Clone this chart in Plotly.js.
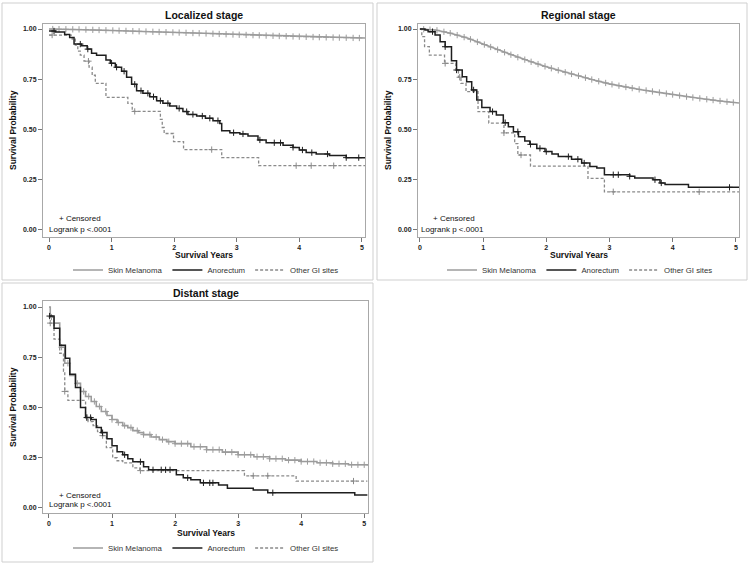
<!DOCTYPE html>
<html><head><meta charset="utf-8">
<script src="https://cdn.plot.ly/plotly-3.0.1.min.js"></script>
<style>html,body{margin:0;padding:0;background:#fff}#chart{width:750px;height:565px}</style>
</head><body><div id="chart"></div>
<script>
// ---------- DATA ----------
var seriesNames = ["Skin Melanoma", "Anorectum", "Other GI sites"];
var panelTitles = ["Localized stage", "Regional stage", "Distant stage"];
var xTicks = [0, 1, 2, 3, 4, 5];
var yTicks = [0, 0.25, 0.5, 0.75, 1];

// Localized stage
var locMelT = [0,0.5,1,1.5,2,2.5,3,3.5,4,4.5,5,5.05];
var locMelS = [1.0,0.998,0.993,0.988,0.983,0.978,0.972,0.967,0.962,0.958,0.955,0.955];
var locMelCens = [0.06,0.16,0.27,0.38,0.48,0.59,0.7,0.8,0.91,1.02,1.12,1.23,1.34,1.44,1.55,1.66,1.76,1.87,1.98,2.08,2.19,2.3,2.4,2.51,2.62,2.72,2.83,2.94,3.04,3.15,3.26,3.36,3.47,3.58,3.68,3.79,3.9,4.0,4.11,4.22,4.32,4.43,4.54,4.64,4.75,4.86,4.96];
var locAnoT = [0,0.1,0.25,0.33,0.4,0.52,0.61,0.68,0.76,0.91,0.98,1.06,1.16,1.24,1.32,1.4,1.5,1.61,1.72,1.82,1.93,2.04,2.14,2.22,2.36,2.5,2.62,2.73,2.76,2.89,3.05,3.18,3.34,3.47,3.74,3.9,4.0,4.11,4.27,4.48,4.75,5.05];
var locAnoS = [0.99,0.985,0.973,0.958,0.925,0.917,0.9,0.88,0.87,0.846,0.83,0.81,0.79,0.76,0.725,0.693,0.68,0.663,0.643,0.63,0.617,0.605,0.589,0.575,0.567,0.556,0.544,0.53,0.494,0.484,0.478,0.468,0.448,0.434,0.421,0.411,0.398,0.385,0.378,0.371,0.36,0.36];
var locAnoCens = [0.08,0.5,0.62,1.0,1.08,1.2,1.37,1.47,1.58,1.67,1.78,1.9,2.08,2.2,2.3,2.45,2.57,2.7,2.95,3.1,3.37,3.6,3.7,3.9,4.05,4.2,4.45,4.75,4.95];
var locOthT = [0,0.37,0.42,0.46,0.5,0.56,0.64,0.69,0.74,0.91,1.26,1.33,1.78,1.81,1.84,1.99,2.15,2.76,3.35,5.05];
var locOthS = [0.97,0.95,0.92,0.89,0.87,0.84,0.81,0.77,0.73,0.66,0.63,0.59,0.55,0.51,0.48,0.44,0.40,0.36,0.32,0.32];
var locOthCens = [0.05,0.63,1.37,2.6,3.95,4.19,4.55];

// Regional stage
var regMelT = [0,0.25,0.5,0.75,1,1.25,1.5,1.75,2,2.25,2.5,2.75,3,3.25,3.5,3.75,4,4.25,4.5,4.75,5,5.05];
var regMelS = [1.0,0.995,0.978,0.955,0.925,0.895,0.865,0.838,0.812,0.789,0.768,0.746,0.727,0.712,0.698,0.686,0.674,0.662,0.652,0.642,0.633,0.632];
var regMelCens = [0.06,0.16,0.27,0.38,0.48,0.59,0.7,0.8,0.91,1.02,1.12,1.23,1.34,1.44,1.55,1.66,1.76,1.87,1.98,2.08,2.19,2.3,2.4,2.51,2.62,2.72,2.83,2.94,3.04,3.15,3.26,3.36,3.47,3.58,3.68,3.79,3.9,4.0,4.11,4.22,4.32,4.43,4.54,4.64,4.75,4.86,4.96];
var regAnoT = [0,0.08,0.13,0.24,0.32,0.4,0.5,0.58,0.67,0.74,0.82,0.9,0.98,1.11,1.21,1.32,1.4,1.48,1.56,1.66,1.74,1.85,1.98,2.09,2.19,2.4,2.56,2.69,2.8,2.92,3.32,3.4,3.69,3.8,3.88,4.25,5.05];
var regAnoS = [1.0,0.995,0.987,0.97,0.937,0.912,0.842,0.796,0.763,0.738,0.697,0.647,0.61,0.589,0.572,0.534,0.514,0.489,0.464,0.443,0.426,0.406,0.39,0.378,0.365,0.352,0.333,0.316,0.308,0.275,0.267,0.259,0.25,0.234,0.226,0.212,0.212];
var regAnoCens = [0.2,0.4,0.58,0.85,1.15,1.35,1.55,1.75,1.9,2.0,2.35,2.5,2.6,3.06,3.14,3.32,3.72,3.82,4.9];
var regOthT = [0,0.03,0.074,0.15,0.39,0.57,0.61,0.65,0.73,0.92,1.09,1.33,1.5,1.55,1.75,2.66,2.92,5.05];
var regOthS = [1.0,0.962,0.912,0.87,0.829,0.79,0.76,0.73,0.688,0.589,0.532,0.483,0.43,0.373,0.318,0.257,0.19,0.19];
var regOthCens = [0.4,0.63,1.33,1.6,3.06,4.42];

// Distant stage
var distMelT = [0,0.02,0.08,0.17,0.25,0.33,0.42,0.5,0.58,0.67,0.75,0.83,0.92,1.0,1.08,1.17,1.25,1.33,1.42,1.5,1.62,1.75,1.87,2.0,2.25,2.5,2.75,3.0,3.25,3.5,3.75,4.0,4.25,4.5,4.75,5.05];
var distMelS = [1.0,0.95,0.92,0.80,0.72,0.66,0.62,0.58,0.555,0.53,0.505,0.48,0.46,0.44,0.425,0.41,0.40,0.385,0.375,0.365,0.353,0.34,0.33,0.32,0.305,0.29,0.278,0.265,0.255,0.245,0.238,0.231,0.225,0.22,0.215,0.21];
var distMelCens = [0.04,0.2,0.3,0.45,0.55,0.63,0.72,0.8,0.9,1.0,1.1,1.2,1.3,1.4,1.5,1.6,1.7,1.8,1.9,2.0,2.1,2.2,2.3,2.4,2.5,2.6,2.7,2.8,2.9,3.0,3.1,3.2,3.3,3.4,3.5,3.6,3.7,3.8,3.9,4.0,4.1,4.2,4.3,4.4,4.5,4.6,4.7,4.8,4.9,5.0];
var distAnoT = [0,0.08,0.17,0.26,0.33,0.42,0.5,0.58,0.67,0.75,0.83,0.92,1.0,1.08,1.17,1.25,1.33,1.5,1.58,2.02,2.13,2.25,2.4,2.69,2.83,3.24,3.47,4.85,5.05];
var distAnoS = [0.955,0.895,0.81,0.745,0.665,0.60,0.50,0.45,0.44,0.40,0.375,0.345,0.31,0.28,0.265,0.245,0.23,0.205,0.19,0.165,0.15,0.14,0.125,0.114,0.098,0.09,0.076,0.065,0.065];
var distAnoCens = [0.01,0.6,0.66,0.85,1.2,1.45,1.65,1.78,1.85,1.92,2.2,2.45,2.55,2.6,3.55];
var distOthT = [0,0.08,0.17,0.23,0.25,0.3,0.58,0.62,0.7,0.77,0.83,0.91,1.01,1.08,1.17,1.33,1.44,3.1,3.92,5.05];
var distOthS = [0.92,0.84,0.77,0.68,0.58,0.535,0.45,0.43,0.41,0.38,0.36,0.30,0.25,0.235,0.224,0.20,0.186,0.16,0.134,0.134];
var distOthCens = [0.02,0.25,0.6,0.85,1.45,3.24,3.47,4.83];

// ---------- BUILD ----------
function valueAt(ts, ss, t, linear) {
  var i = 0;
  while (i + 1 < ts.length && ts[i + 1] <= t) i++;
  if (linear && i + 1 < ts.length) {
    var f = (t - ts[i]) / (ts[i + 1] - ts[i]);
    return ss[i] + f * (ss[i + 1] - ss[i]);
  }
  return ss[i];
}

var styles = [
  {color: "#9c9c9c", width: 1.6, dash: "solid"},
  {color: "#1e1e1e", width: 1.5, dash: "solid"},
  {color: "#8a8a8a", width: 1.3, dash: "3px,2px"}
];

var panels = [
  {ax: "", leg: "legend", series: [[locMelT, locMelS, locMelCens, true], [locAnoT, locAnoS, locAnoCens, false], [locOthT, locOthS, locOthCens, false]]},
  {ax: "2", leg: "legend2", series: [[regMelT, regMelS, regMelCens, true], [regAnoT, regAnoS, regAnoCens, false], [regOthT, regOthS, regOthCens, false]]},
  {ax: "3", leg: "legend3", series: [[distMelT, distMelS, distMelCens, false], [distAnoT, distAnoS, distAnoCens, false], [distOthT, distOthS, distOthCens, false]]}
];

var traces = [];
var drawOrder = [0, 2, 1];
panels.forEach(function (p) {
  drawOrder.forEach(function (k) {
    var s = p.series[k], st = styles[k];
    traces.push({
      x: s[0], y: s[1], type: "scatter", mode: "lines",
      line: {shape: s[3] ? "linear" : "hv", color: st.color, width: st.width, dash: st.dash},
      name: seriesNames[k], legend: p.leg, legendrank: k + 1,
      xaxis: "x" + p.ax, yaxis: "y" + p.ax, hoverinfo: "skip"
    });
    traces.push({
      x: s[2], y: s[2].map(function (t) { return valueAt(s[0], s[1], t, s[3]); }),
      type: "scatter", mode: "markers", showlegend: false,
      marker: {symbol: "cross-thin", size: 4.5, line: {color: st.color, width: 1}},
      xaxis: "x" + p.ax, yaxis: "y" + p.ax, hoverinfo: "skip"
    });
  });
});

var FONT = "Arial, 'Liberation Sans', sans-serif";
function xax(domain, range, anchor) {
  return {domain: domain, range: range, anchor: anchor, tickvals: xTicks, ticktext: xTicks.map(String),
    showline: true, mirror: true, linecolor: "#a8a8a8", linewidth: 1, ticks: "outside", ticklen: 4,
    tickcolor: "#777", showgrid: false, zeroline: false, fixedrange: true,
    tickfont: {family: FONT, size: 7, color: "#222", weight: "bold"}};
}
function yax(domain, range, anchor) {
  return {domain: domain, range: range, anchor: anchor, tickvals: yTicks, tickformat: ".2f",
    showline: true, mirror: true, linecolor: "#a8a8a8", linewidth: 1, ticks: "outside", ticklen: 4,
    tickcolor: "#777", showgrid: false, zeroline: false, fixedrange: true,
    tickfont: {family: FONT, size: 7, color: "#222", weight: "bold"}};
}
function legendAt(x, y) {
  return {orientation: "h", x: x, y: y, xanchor: "center", yanchor: "middle", itemwidth: 30,
    font: {family: FONT, size: 7.8, color: "#333"}, bgcolor: "rgba(0,0,0,0)", tracegroupgap: 0, itemclick: false};
}
function ann(text, x, y, opts) {
  var a = {text: text, x: x, y: y, xref: "paper", yref: "paper", showarrow: false,
    font: {family: FONT, size: 8, color: "#111"}, xanchor: "center", yanchor: "middle"};
  for (var k in opts) a[k] = opts[k];
  return a;
}
function py(px) { return 1 - px / 565; }
function pxx(px) { return px / 750; }

var annotations = [];
var titleCfg = [[204, 15], [578.5, 15], [205.5, 293]];
var xtCfg = [[204, 255], [578.5, 255], [205.5, 533]];
var ytCfg = [[13, 130], [388, 130], [13, 407]];
var cenCfg = [[57, 218], [431, 218], [57, 495]];
var lrCfg = [[47, 229], [419, 229], [47, 505]];
for (var i = 0; i < 3; i++) {
  annotations.push(ann(panelTitles[i], pxx(titleCfg[i][0]), py(titleCfg[i][1]), {font: {family: FONT, size: 10.5, color: "#111", weight: "bold"}}));
  annotations.push(ann("Survival Years", pxx(xtCfg[i][0]), py(xtCfg[i][1]), {font: {family: FONT, size: 8.5, color: "#111", weight: "bold"}}));
  annotations.push(ann("Survival Probability", pxx(ytCfg[i][0]), py(ytCfg[i][1]), {textangle: -90, font: {family: FONT, size: 8.5, color: "#111", weight: "bold"}}));
  annotations.push(ann("+ Censored", pxx(cenCfg[i][0]), py(cenCfg[i][1]), {xanchor: "left"}));
  annotations.push(ann("Logrank p <.0001", pxx(lrCfg[i][0]), py(lrCfg[i][1]), {xanchor: "left"}));
}

var frames = [[2, 3, 373, 280], [377, 3, 747, 280], [2, 283, 373, 562]];
var shapes = frames.map(function (f) {
  return {type: "rect", xref: "paper", yref: "paper", x0: pxx(f[0]), x1: pxx(f[2]), y0: py(f[3]), y1: py(f[1]),
    line: {color: "#cfcfcf", width: 1}, fillcolor: "rgba(0,0,0,0)", layer: "below"};
});

var layout = {
  width: 750, height: 565, margin: {l: 0, r: 0, t: 0, b: 0},
  paper_bgcolor: "#fff", plot_bgcolor: "#fff",
  font: {family: FONT, color: "#222"},
  xaxis: xax([43 / 750, 365 / 750], [-0.096, 5.05], "y"),
  yaxis: yax([1 - 237 / 565, 1 - 24 / 565], [-0.035, 1.025], "x"),
  xaxis2: xax([418 / 750, 739 / 750], [-0.03, 5.05], "y2"),
  yaxis2: yax([1 - 237 / 565, 1 - 24 / 565], [-0.035, 1.025], "x2"),
  xaxis3: xax([43 / 750, 368 / 750], [-0.095, 5.06], "y3"),
  yaxis3: yax([1 - 513 / 565, 1 - 301 / 565], [-0.025, 1.03], "x3"),
  legend: legendAt(pxx(206), py(270)),
  legend2: legendAt(pxx(580), py(270)),
  legend3: legendAt(pxx(206), py(548)),
  annotations: annotations,
  shapes: shapes,
  showlegend: true
};

Plotly.newPlot("chart", traces, layout, {staticPlot: true, displayModeBar: false});
</script>
</body></html>
